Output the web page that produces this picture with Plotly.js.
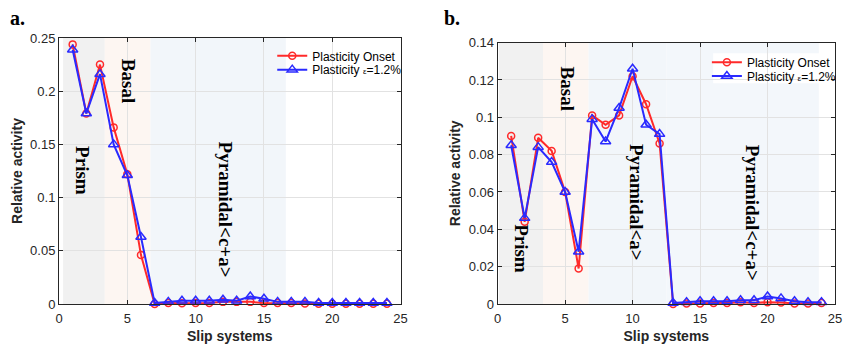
<!DOCTYPE html>
<html><head><meta charset="utf-8">
<script src="https://cdn.plot.ly/plotly-3.0.1.min.js"></script>
<style>html,body{margin:0;padding:0;background:#fff}#chart{width:844px;height:344px}</style>
</head><body><div id="chart"></div>
<script>
// ---- data ----
const slipSystems = [1,2,3,4,5,6,7,8,9,10,11,12,13,14,15,16,17,18,19,20,21,22,23,24];
const seriesNames = ['Plasticity Onset', 'Plasticity <span style="font-size:8px">ε</span>=1.2%'];

const onsetA  = [0.244,0.179,0.225,0.166,0.122,0.046,0.000,0.001,0.0008,0.001,0.001,0.002,0.002,0.002,0.001,0.001,0.001,0.0005,0.0003,0.0003,0.0003,0.0003,0.0003,0.0003];
const strainA = [0.239,0.179,0.216,0.150,0.121,0.063,0.001,0.002,0.003,0.003,0.003,0.004,0.003,0.007,0.005,0.002,0.002,0.002,0.001,0.001,0.001,0.001,0.001,0.001];

const onsetB  = [0.090,0.044,0.089,0.082,0.060,0.019,0.101,0.096,0.101,0.122,0.107,0.086,0.000,0.0003,0.0003,0.0005,0.0005,0.001,0.0005,0.001,0.0008,0.0003,0.0003,0.0005];
const strainB = [0.085,0.046,0.084,0.076,0.060,0.028,0.099,0.087,0.105,0.126,0.096,0.091,0.0005,0.001,0.0015,0.0015,0.0015,0.002,0.002,0.004,0.003,0.0015,0.001,0.001];

// slip-family regions (slip-system index ranges)
const regionNamesA = ['Prism','Basal','Pyramidal&lt;c+a&gt;'];
const regionStartA = [0.3, 3.35, 6.7];
const regionEndA   = [3.35, 6.7, 16.6];
const regionNamesB = ['Prism','Basal','Pyramidal&lt;a&gt;','Pyramidal&lt;c+a&gt;'];
const regionStartB = [0.1, 3.36, 6.74, 12.5];
const regionEndB   = [3.36, 6.74, 12.5, 23.8];
const regionColors = ['#f1f1f1','#fdf6f2','#f2f6fa','#f3f7fb'];

const yRangeA = [0, 0.25], yDtickA = 0.05;
const yRangeB = [0, 0.14], yDtickB = 0.02;
const xRange = [0, 25], xDtick = 5;
// ---------------

const red = '#ff2a2a', blue = '#2a2aff';
function mk(x, y, name, color, symbol, xa, ya, leg) {
  return {x, y, name, type:'scatter', mode:'lines+markers', xaxis:xa, yaxis:ya, legend:leg,
    line:{color, width:2},
    marker:{symbol, size:symbol.indexOf('triangle')===0?9:7, color, line:{color, width:1.5}},
    cliponaxis:false};
}
const traces = [
  mk(slipSystems, onsetA, seriesNames[0], red, 'circle-open', 'x', 'y', 'legend'),
  mk(slipSystems, strainA, seriesNames[1], blue, 'triangle-up-open', 'x', 'y', 'legend3'),
  mk(slipSystems, onsetB, seriesNames[0], red, 'circle-open', 'x2', 'y2', 'legend2'),
  mk(slipSystems, strainB, seriesNames[1], blue, 'triangle-up-open', 'x2', 'y2', 'legend4')
];

const tickFont = {family:'Liberation Sans, Arial, sans-serif', size:13, color:'#262626'};
const titleFont = {family:'Liberation Sans, Arial, sans-serif', size:14, color:'#262626'};
function ax(extra) {
  return Object.assign({showline:true, linecolor:'#262626', linewidth:1, mirror:'ticks',
    ticks:'inside', ticklen:4, tickcolor:'#262626', showgrid:true, gridcolor:'#e2e2e2',
    zeroline:false, tickfont:tickFont, fixedrange:true}, extra);
}

const shapes = [];
regionNamesA.forEach((n,i)=>shapes.push({type:'rect', xref:'x', yref:'paper', x0:regionStartA[i], x1:regionEndA[i], y0:0, y1:1, fillcolor:regionColors[i], line:{width:0}, layer:'below'}));
regionNamesB.forEach((n,i)=>shapes.push({type:'rect', xref:'x2', yref:'paper', x0:regionStartB[i], x1:regionEndB[i], y0:0, y1:0.9827, fillcolor:regionColors[i], line:{width:0}, layer:'below'}));
// white legend box of panel b
shapes.push({type:'rect', xref:'paper', yref:'paper', x0:0.843, x1:0.981, y0:0.830, y1:0.9426, fillcolor:'#ffffff', line:{width:0}, layer:'below'});

const labFont = {family:'Liberation Serif, Times New Roman, serif', size:19, color:'#000'};
function lab(text, x, y, xr, yr) {
  return {text:'<b>'+text+'</b>', x, y, xref:xr, yref:yr, showarrow:false, textangle:90, font:labFont, xanchor:'center', yanchor:'middle'};
}
const annotations = [
  lab(regionNamesA[0], 1.75, 0.125, 'x', 'y'),
  lab(regionNamesA[1], 5.1, 0.21, 'x', 'y'),
  lab(regionNamesA[2], 12.2, 0.089, 'x', 'y'),
  lab(regionNamesB[0], 1.8, 0.0294, 'x2', 'y2'),
  lab(regionNamesB[1], 5.15, 0.1153, 'x2', 'y2'),
  lab(regionNamesB[2], 10.3, 0.0543, 'x2', 'y2'),
  lab(regionNamesB[3], 18.9, 0.049, 'x2', 'y2'),
  {text:'<b>a.</b>', x:-0.0657, y:1.074, xref:'paper', yref:'paper', xanchor:'left', yanchor:'middle', showarrow:false, font:{family:'Liberation Serif, Times New Roman, serif', size:20, color:'#000'}},
  {text:'<b>b.</b>', x:0.4937, y:1.074, xref:'paper', yref:'paper', xanchor:'left', yanchor:'middle', showarrow:false, font:{family:'Liberation Serif, Times New Roman, serif', size:20, color:'#000'}}
];

const legFont = {family:'Liberation Sans, Arial, sans-serif', size:12, color:'#000'};
function leg(x, y) {
  return {x, y, xanchor:'left', yanchor:'middle', bgcolor:'rgba(255,255,255,0)', font:legFont, itemwidth:30, tracegroupgap:0, borderwidth:0};
}
const layout = {
  width:844, height:344,
  margin:{l:59.3, r:3.3, t:37.7, b:40, pad:0},
  paper_bgcolor:'#fff', plot_bgcolor:'#fff',
  showlegend:true,
  xaxis: ax({domain:[0,0.4402], range:xRange, dtick:xDtick, tick0:0, anchor:'y', ticklabelstandoff:2,
    title:{text:'<b>Slip systems</b>', font:titleFont, standoff:9}}),
  yaxis: ax({domain:[0,1], range:yRangeA, dtick:yDtickA, tick0:0, anchor:'x',
    title:{text:'<b>Relative activity</b>', font:titleFont, standoff:4}}),
  xaxis2: ax({domain:[0.5653,1], range:xRange, dtick:xDtick, tick0:0, anchor:'y2', ticklabelstandoff:2,
    title:{text:'<b>Slip systems</b>', font:titleFont, standoff:9}}),
  yaxis2: ax({domain:[0,0.9827], range:yRangeB, dtick:yDtickB, tick0:0, anchor:'x2',
    title:{text:'<b>Relative activity</b>', font:titleFont, standoff:4}}),
  legend:  leg(0.2748, 0.933),
  legend3: leg(0.2748, 0.881),
  legend2: leg(0.8349, 0.9087),
  legend4: leg(0.8349, 0.8573),
  shapes, annotations
};
Plotly.newPlot('chart', traces, layout, {displayModeBar:false, staticPlot:true});
</script>
</body></html>
